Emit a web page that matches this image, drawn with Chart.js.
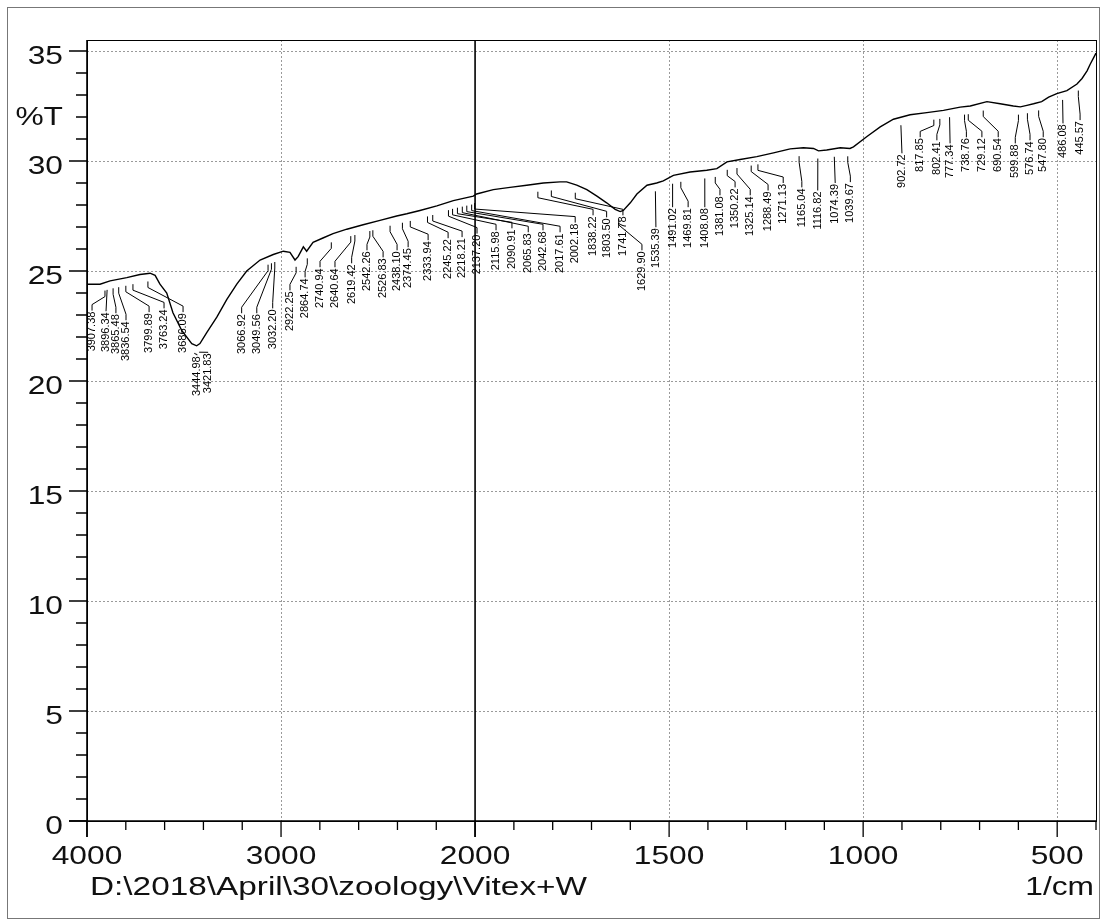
<!DOCTYPE html>
<html lang="en">
<head>
<meta charset="UTF-8">
<title>FTIR spectrum - Vitex+W</title>
<style>
  body { margin: 0; background: #fff; }
  #wrap { width: 1105px; height: 923px; }
</style>
</head>
<body>
<div id="wrap"><canvas id="irChart" width="1105" height="923"></canvas></div>
<script src="https://cdn.jsdelivr.net/npm/chart.js"></script>
<script>
// spectrum (1/cm, %T)
const wavenumbers = [4000, 3933, 3881, 3795, 3727, 3675, 3649, 3624, 3589, 3557, 3512, 3460, 3435, 3418, 3383,
  3331, 3280, 3228, 3177, 3108, 3040, 2988, 2954, 2928, 2912, 2885, 2868, 2835, 2784, 2732, 2661, 2577, 2490,
  2404, 2352, 2284, 2197, 2112, 2009, 1996, 1953, 1910, 1867, 1824, 1781, 1764, 1738, 1712, 1686, 1661, 1639,
  1626, 1618, 1600, 1583, 1557, 1532, 1515, 1489, 1446, 1403, 1377, 1351, 1317, 1274, 1231, 1188, 1154, 1128,
  1115, 1094, 1059, 1034, 1025, 991, 956, 922, 879, 836, 793, 750, 724, 681, 647, 613, 595, 578, 561, 540, 522,
  501, 475, 449, 436, 423, 415, 406, 400];
const transmittance = [24.4, 24.4, 24.55, 24.7, 24.84, 24.9, 24.8, 24.4, 24.0, 23.1, 22.3, 21.7, 21.6, 21.7, 22.2,
  22.9, 23.7, 24.4, 25.0, 25.5, 25.75, 25.9, 25.85, 25.5, 25.65, 26.1, 25.9, 26.3, 26.5, 26.7, 26.9, 27.1, 27.3,
  27.5, 27.6, 27.75, 27.96, 28.2, 28.4, 28.5, 28.7, 28.8, 28.9, 29.0, 29.05, 29.05, 28.9, 28.7, 28.4, 28.1, 27.8,
  27.7, 27.75, 28.1, 28.5, 28.9, 29.0, 29.1, 29.35, 29.5, 29.58, 29.65, 29.96, 30.07, 30.2, 30.37, 30.55, 30.6, 30.57,
  30.46, 30.5, 30.6, 30.57, 30.64, 31.1, 31.55, 31.9, 32.1, 32.2, 32.3, 32.45, 32.5, 32.7, 32.6, 32.5, 32.46, 32.53, 32.6, 32.7, 32.9,
  33.06, 33.2, 33.5, 33.75, 34.1, 34.4, 34.7, 34.9];

// picked peaks
const peakWavenumbers = [3907.38, 3896.34, 3865.48, 3836.54, 3799.89, 3763.24, 3686.09, 3444.98, 3421.83,
  3066.92, 3049.56, 3032.20, 2922.25, 2864.74, 2740.94, 2640.64, 2619.42, 2542.26, 2526.83, 2438.10, 2374.45,
  2333.94, 2245.22, 2218.21, 2137.20, 2115.98, 2090.91, 2065.83, 2042.68, 2017.61, 2002.18, 1838.22, 1803.50,
  1741.78, 1629.90, 1535.39, 1491.02, 1469.81, 1408.08, 1381.08, 1350.22, 1325.14, 1288.49, 1271.13, 1165.04,
  1116.82, 1074.39, 1039.67, 902.72, 817.85, 802.41, 777.34, 738.76, 729.12, 690.54, 599.88, 576.74, 547.80,
  486.08, 445.57];

const xMajorTicks = [4000, 3000, 2000, 1500, 1000, 500];
const xGridTicks = [3000, 1500, 1000, 500];
const yMajorTicks = [0, 5, 10, 15, 20, 25, 30, 35];
const yTitle = '%T';
const xTitle = '1/cm';
const fileLabel = 'D:\\2018\\April\\30\\zoology\\Vitex+W';

// label placement: [1/cm where the label stands, %T at its upper end]
const peakLabelLayout = [[3974, 23.2], [3902, 23.17], [3851, 23.08], [3799, 22.76], [3680, 23.13], [3603, 23.3],
  [3505, 23.13], [3433, 21.17], [3376, 21.3], [3203, 23.08], [3125, 23.08], [3043, 23.3], [2954, 24.12],
  [2876, 24.71], [2799, 25.17], [2722, 25.17], [2636, 25.35], [2557, 25.94], [2474, 25.62], [2402, 25.94],
  [2345, 26.08], [2242, 26.4], [2139, 26.49], [2067, 26.54], [1995, 26.7], [1946, 26.85], [1905, 26.94],
  [1863, 26.76], [1825, 26.85], [1781, 26.76], [1742, 27.2], [1696, 27.53], [1661, 27.44], [1619, 27.53],
  [1570, 25.94], [1534, 26.99], [1491, 27.9], [1451, 27.9], [1408, 27.9], [1369, 28.44], [1330, 28.8],
  [1291, 28.44], [1245, 28.66], [1206, 29.0], [1158, 28.8], [1117, 28.66], [1072, 29.0], [1033, 29.04],
  [900, 30.35], [853, 31.08], [810, 30.94], [776, 30.8], [734, 31.08], [694, 31.08], [652, 31.08], [608, 30.8],
  [570, 30.94], [536, 31.08], [485, 31.71], [441, 31.86]];

// x axis of the IR printout: 4000-2000 1/cm is drawn at half the scale of 2000-400
const X_HIGH = 4000, X_BREAK = 2000, X_LOW = 400;
function irUnits(v) {
  return v >= X_BREAK ? (X_HIGH - v) / 2 : (X_HIGH - X_BREAK) / 2 + (X_BREAK - v);
}
class IRBrokenScale extends Chart.LinearScale {
  determineDataLimits() { this.min = X_LOW; this.max = X_HIGH; }
  getPixelForValue(v) {
    return this.left + this.width * irUnits(v) / irUnits(X_LOW);
  }
  getValueForPixel(p) {
    const u = (p - this.left) / this.width * irUnits(X_LOW);
    const half = (X_HIGH - X_BREAK) / 2;
    return u <= half ? X_HIGH - 2 * u : X_BREAK - (u - half);
  }
}
IRBrokenScale.id = 'irbroken';
IRBrokenScale.defaults = {};
Chart.register(IRBrokenScale);

function curveAt(w) {
  for (let i = 0; i < wavenumbers.length - 1; i++) {
    const a = wavenumbers[i], b = wavenumbers[i + 1];
    if (w <= a && w >= b) {
      const t = (a - w) / (a - b);
      return transmittance[i] + t * (transmittance[i + 1] - transmittance[i]);
    }
  }
  return transmittance[transmittance.length - 1];
}

const BIG = "26px 'Liberation Sans', Arial, sans-serif";
const STRETCH = 1.22;

function wideText(ctx, txt, x, y, align, sx) {
  ctx.save();
  ctx.translate(x, y);
  ctx.scale(sx || STRETCH, 1);
  ctx.textAlign = align;
  ctx.textBaseline = 'alphabetic';
  ctx.fillText(txt, 0, 0);
  ctx.restore();
}

const irDecor = {
  id: 'irDecor',
  beforeDatasetsDraw(chart) {
    const { ctx, chartArea: a, scales: { x, y } } = chart;
    ctx.save();
    ctx.strokeStyle = '#9a9a9a';
    ctx.lineWidth = 1;
    ctx.setLineDash([2, 2]);
    yMajorTicks.forEach(v => {
      if (v === 0) return;
      const py = Math.round(y.getPixelForValue(v)) + 0.5;
      ctx.beginPath(); ctx.moveTo(a.left, py); ctx.lineTo(a.right, py); ctx.stroke();
    });
    xGridTicks.forEach(v => {
      const px = Math.round(x.getPixelForValue(v)) + 0.5;
      ctx.beginPath(); ctx.moveTo(px, a.top); ctx.lineTo(px, a.bottom); ctx.stroke();
    });
    ctx.restore();
  },
  afterDatasetsDraw(chart) {
    const { ctx, chartArea: a, scales: { x, y } } = chart;
    ctx.save();
    // frame
    ctx.strokeStyle = '#000';
    ctx.lineWidth = 1;
    ctx.strokeRect(a.left + 0.5, a.top + 0.5, a.right - a.left, a.bottom - a.top);
    ctx.lineWidth = 1.6;
    ctx.beginPath();
    ctx.moveTo(a.left - 18, a.bottom); ctx.lineTo(a.right, a.bottom);
    ctx.moveTo(a.left, a.top); ctx.lineTo(a.left, a.bottom + 16);
    const p2000 = x.getPixelForValue(X_BREAK);
    ctx.moveTo(p2000, a.top); ctx.lineTo(p2000, a.bottom + 16);
    ctx.stroke();

    // y ticks
    ctx.lineWidth = 1.3;
    ctx.beginPath();
    for (let v = 0; v <= 35; v++) {
      const py = y.getPixelForValue(v);
      const len = v % 5 === 0 ? 18 : 11;
      ctx.moveTo(a.left - len, py); ctx.lineTo(a.left, py);
    }
    // x ticks: every 200 above the break, every 100 below
    for (let v = X_HIGH; v >= X_LOW; v -= (v > X_BREAK ? 200 : 100)) {
      const px = x.getPixelForValue(v);
      const len = xMajorTicks.includes(v) ? 16 : 9;
      ctx.moveTo(px, a.bottom); ctx.lineTo(px, a.bottom + len);
    }
    ctx.stroke();

    // axis text
    ctx.fillStyle = '#111';
    ctx.font = BIG;
    yMajorTicks.forEach(v => wideText(ctx, String(v), a.left - 24, y.getPixelForValue(v) + 12.5, 'right'));
    wideText(ctx, yTitle, a.left - 24, y.getPixelForValue(32.2) + 12.5, 'right');
    xMajorTicks.forEach(v => wideText(ctx, String(v), x.getPixelForValue(v), a.bottom + 43, 'center'));
    const fileW = ctx.measureText(fileLabel).width;
    wideText(ctx, fileLabel, 90, a.bottom + 74, 'left', 497 / fileW);
    wideText(ctx, xTitle, a.right - 2, a.bottom + 74, 'right');

    // peak markers
    ctx.font = "11px 'Liberation Sans', Arial, sans-serif";
    ctx.lineWidth = 1;
    ctx.strokeStyle = '#000';
    ctx.fillStyle = '#000';
    peakWavenumbers.forEach((w, i) => {
      const [lw, lt] = peakLabelLayout[i];
      const px = x.getPixelForValue(w);
      const sy = y.getPixelForValue(curveAt(w)) + 8;
      const lx = x.getPixelForValue(lw);
      const top = y.getPixelForValue(lt);
      const k = Math.max(0, Math.min(6, (top - sy) / 3));
      ctx.beginPath();
      ctx.moveTo(px, sy);
      if (Math.abs(lx - px) < 1.5) {
        ctx.lineTo(lx, top);
      } else {
        ctx.lineTo(px, sy + k);
        ctx.lineTo(lx, top - k);
        ctx.lineTo(lx, top);
      }
      ctx.stroke();
      ctx.save();
      ctx.translate(lx, top + 1);
      ctx.rotate(-Math.PI / 2);
      ctx.textAlign = 'right';
      ctx.textBaseline = 'middle';
      ctx.fillText(w.toFixed(2), 0, 0);
      ctx.restore();
    });

    // outer frame of the printout
    ctx.strokeStyle = '#777';
    ctx.lineWidth = 1;
    ctx.strokeRect(7.5, 7.5, 1092, 911);
    ctx.restore();
  }
};

new Chart(document.getElementById('irChart'), {
  type: 'line',
  data: {
    datasets: [{
      data: wavenumbers.map((w, i) => ({ x: w, y: transmittance[i] })),
      borderColor: '#000',
      borderWidth: 1.4,
      pointRadius: 0,
      tension: 0,
      fill: false
    }]
  },
  options: {
    responsive: false,
    animation: false,
    layout: { padding: { left: 87, right: 9, top: 40, bottom: 102 } },
    plugins: { legend: { display: false }, tooltip: { enabled: false } },
    scales: {
      x: { type: 'irbroken', display: false },
      y: { type: 'linear', min: 0, max: 35.5, display: false }
    }
  },
  plugins: [irDecor]
});
</script>
</body>
</html>
